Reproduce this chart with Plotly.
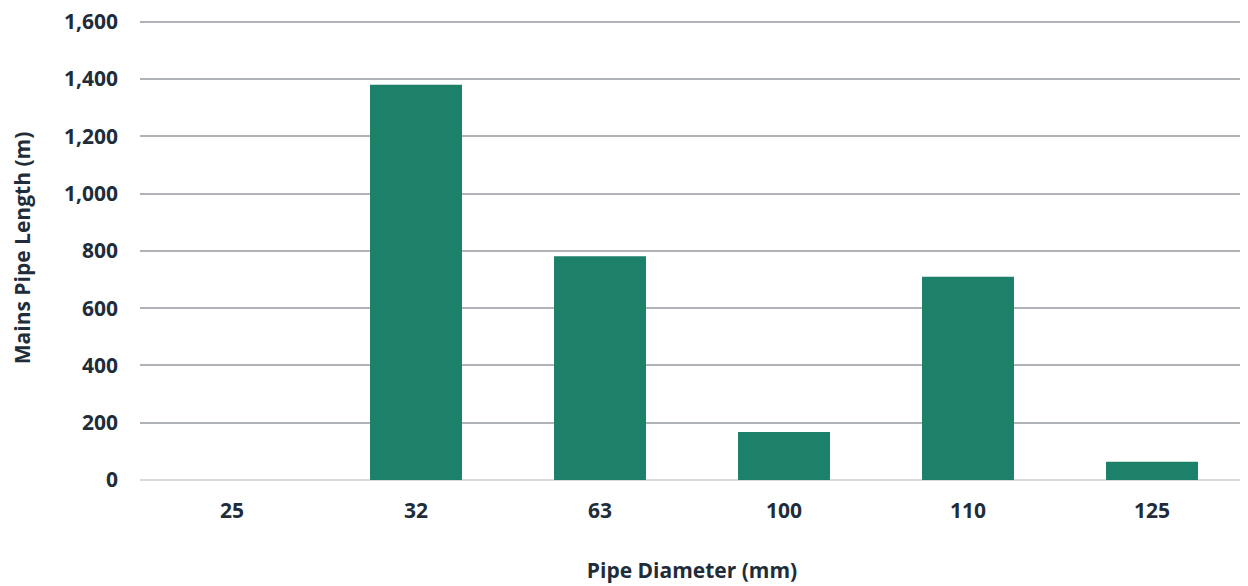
import plotly.graph_objects as go

categories = ["25", "32", "63", "100", "110", "125"]
lengths = [0, 1380, 781, 168, 710, 64]
y_ticks = [0, 200, 400, 600, 800, 1000, 1200, 1400, 1600]

text_color = "#1f2d3a"
font_family = "Open Sans"

fig = go.Figure(go.Bar(
    x=categories, y=lengths,
    marker=dict(color="#1d8068", line=dict(color="#1d8068", width=0)),
    width=0.5,
))

fig.update_layout(
    width=1240, height=578,
    margin=dict(l=132, r=4, t=8, b=106, autoexpand=False),
    plot_bgcolor="white", paper_bgcolor="white",
    showlegend=False,
    font=dict(family=font_family, color=text_color, size=21, weight="bold"),
    xaxis=dict(
        type="category",
        automargin=False,
        tickfont=dict(size=21, family=font_family, color=text_color, weight="bold"),
        ticklabelstandoff=16,
        showgrid=False, zeroline=False, showline=False,
        title=dict(text="Pipe Diameter (mm)", standoff=40,
                   font=dict(size=21, family=font_family, color=text_color, weight="bold")),
    ),
    yaxis=dict(
        range=[0, 1620],
        automargin=False,
        ticklabeloverflow="allow",
        tickvals=y_ticks,
        tickformat=",d",
        tickfont=dict(size=21, family=font_family, color=text_color, weight="bold"),
        ticklabelstandoff=21,
        showgrid=True, gridcolor="#b0b3b8", gridwidth=2,
        zeroline=True, zerolinecolor="#d9d9d9", zerolinewidth=2,
        showline=False,
        title=dict(text="Mains Pipe Length (m)", standoff=32,
                   font=dict(size=21, family=font_family, color=text_color, weight="bold")),
    ),
)

fig.write_html("out.html")
